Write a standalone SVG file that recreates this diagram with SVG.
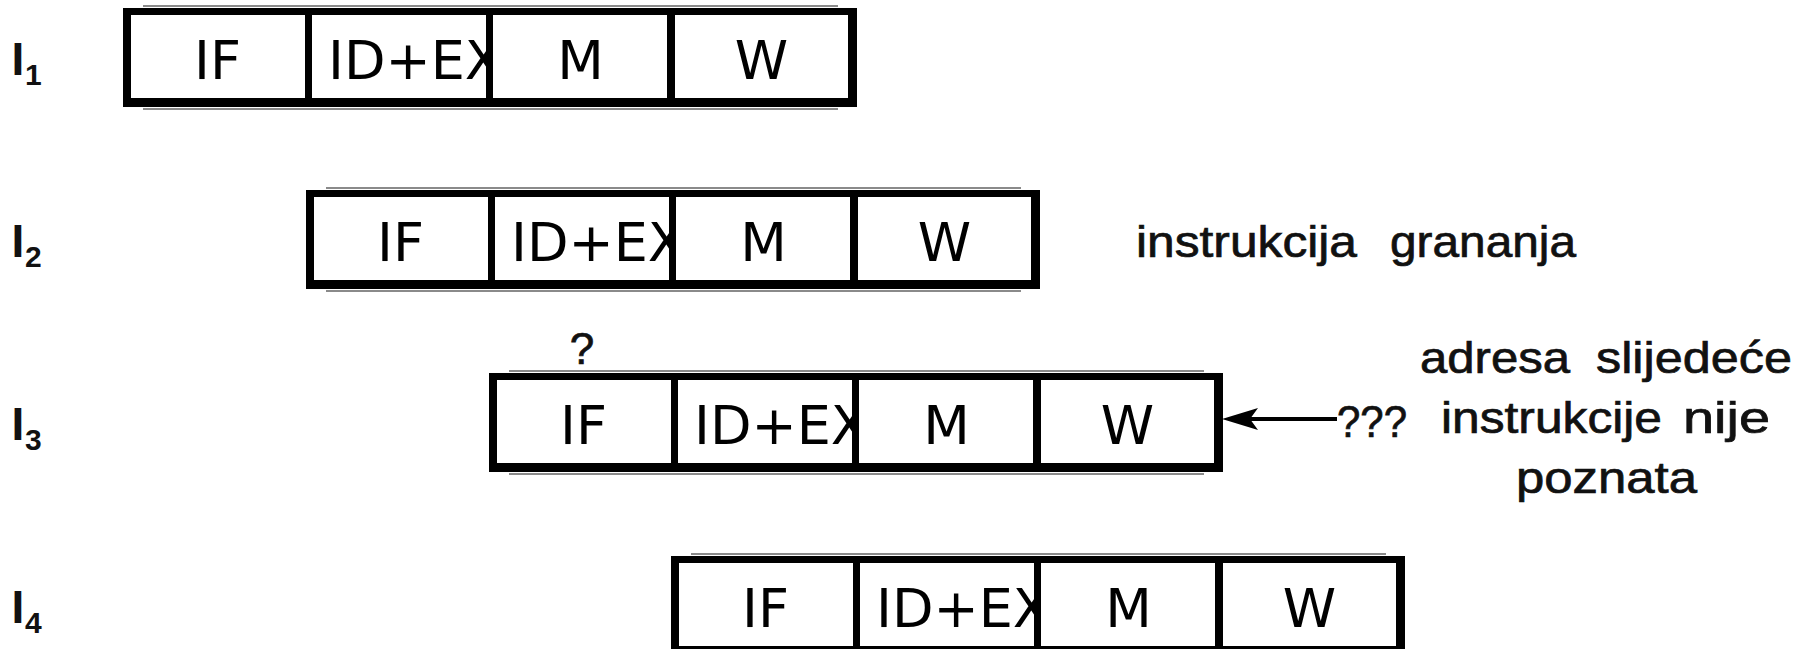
<svg xmlns="http://www.w3.org/2000/svg" width="1802" height="649" viewBox="0 0 1802 649">
<style>
.bg{fill:#fff}
.bd{fill:#000}
.scan{stroke:#8a8a8a;stroke-width:2;fill:none}
.cell{font-family:"DejaVu Sans","Liberation Sans",sans-serif;font-size:54px;fill:#000}
.mid{text-anchor:middle}
.lab{font-family:"Liberation Sans",Arial,sans-serif;font-weight:bold;fill:#111}
.note{font-family:"Liberation Sans",Arial,sans-serif;font-size:44px;fill:#111;stroke:#111;stroke-width:0.7}
.conn{stroke:#000;stroke-width:4;fill:none}
</style>
<defs>
<clipPath id="c2" clipPathUnits="userSpaceOnUse"><rect x="186" y="0" width="179" height="99"/></clipPath>
<marker id="ah" markerUnits="userSpaceOnUse" markerWidth="36" markerHeight="22" viewBox="0 0 36 22" refX="8" refY="11" orient="auto">
<path d="M0,0 L36,11 L0,22 L8,11 Z" fill="#000"/>
</marker>
<g id="stage">
<rect class="bg" x="0" y="0" width="734" height="99"/>
<line class="scan" x1="20" y1="-2" x2="715" y2="-2"/>
<line class="scan" x1="20" y1="101" x2="715" y2="101"/>
<text class="cell mid" x="94.5" y="71">IF</text>
<text class="cell" x="205" y="71" clip-path="url(#c2)">ID+EX</text>
<text class="cell mid" x="457.5" y="71">M</text>
<text class="cell mid" x="638.5" y="71">W</text>
<rect class="bd" x="0" y="0" width="734" height="7"/>
<rect class="bd" x="0" y="90" width="734" height="9"/>
<rect class="bd" x="0" y="0" width="8" height="99"/>
<rect class="bd" x="725" y="0" width="9" height="99"/>
<rect class="bd" x="182" y="0" width="7" height="99"/>
<rect class="bd" x="363" y="0" width="7" height="99"/>
<rect class="bd" x="544" y="0" width="8" height="99"/>
</g>
</defs>

<g id="label-I1"><text class="lab" x="11.5" y="75" font-size="46">I</text><text class="lab" x="25" y="85" font-size="30">1</text></g>
<g id="label-I2"><text class="lab" x="11.5" y="257" font-size="46">I</text><text class="lab" x="25" y="267" font-size="30">2</text></g>
<g id="label-I3"><text class="lab" x="11.5" y="440" font-size="46">I</text><text class="lab" x="25" y="450" font-size="30">3</text></g>
<g id="label-I4"><text class="lab" x="11.5" y="623" font-size="46">I</text><text class="lab" x="25" y="633" font-size="30">4</text></g>

<g id="I1"><use href="#stage" x="123" y="8"/></g>
<g id="I2"><use href="#stage" x="306" y="190"/></g>
<g id="I3"><use href="#stage" x="489" y="373"/></g>
<g id="I4"><use href="#stage" x="671" y="556"/></g>

<g id="q-mark"><text class="note mid" x="582" y="364" font-size="46">?</text></g>

<g id="note-branch">
<text class="note" x="1136" y="257" textLength="221" lengthAdjust="spacingAndGlyphs">instrukcija</text>
<text class="note" x="1390" y="257" textLength="186" lengthAdjust="spacingAndGlyphs">grananja</text>
</g>

<g id="note-address">
<text class="note" x="1337" y="437" textLength="70" lengthAdjust="spacingAndGlyphs">???</text>
<text class="note" x="1420" y="373" textLength="150" lengthAdjust="spacingAndGlyphs">adresa</text>
<text class="note" x="1596" y="373" textLength="196" lengthAdjust="spacingAndGlyphs">slijedeće</text>
<text class="note" x="1441" y="433" textLength="221" lengthAdjust="spacingAndGlyphs">instrukcije</text>
<text class="note" x="1683" y="433" textLength="87" lengthAdjust="spacingAndGlyphs">nije</text>
<text class="note" x="1516" y="493" textLength="181" lengthAdjust="spacingAndGlyphs">poznata</text>
</g>

<g id="connectors">
<line class="conn" x1="1337" y1="419" x2="1250" y2="419" marker-end="url(#ah)"/>
</g>
</svg>
